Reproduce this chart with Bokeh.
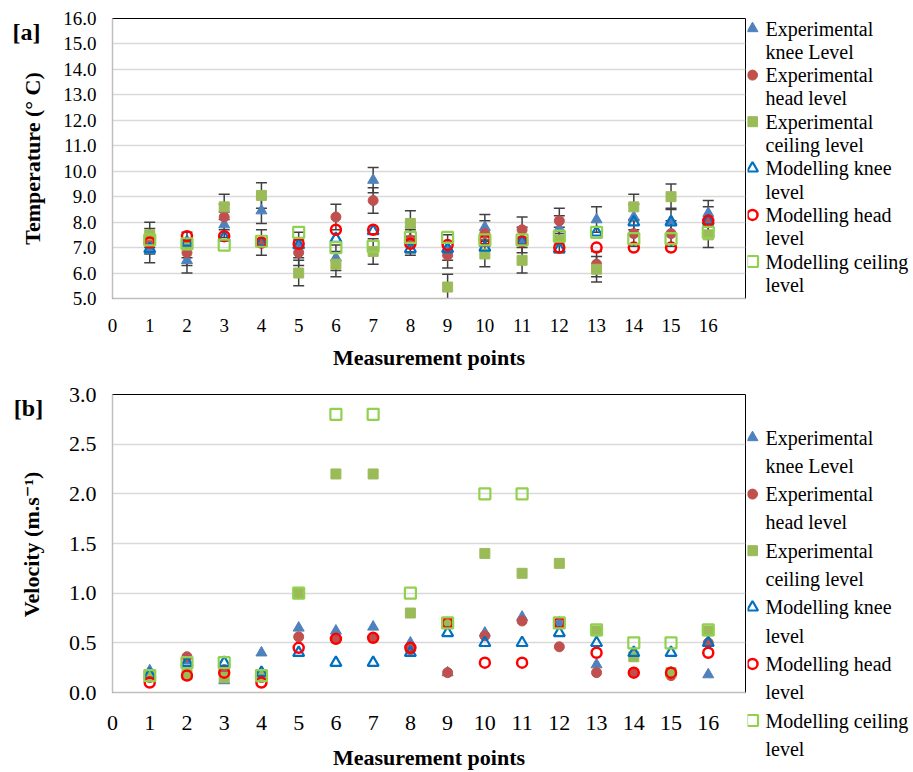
import math
from bokeh.plotting import figure
from bokeh.layouts import column, row
from bokeh.models import (Range1d, FixedTicker, Whisker, TeeHead, ColumnDataSource,
                          NumeralTickFormatter)
from bokeh.core.properties import value
from bokeh.embed import file_html
from bokeh.resources import INLINE
import numpy as np

# ---------------- data ----------------
points = list(range(1, 17))
x_ticks = list(range(0, 17))
temp_ticks = [5.0, 6.0, 7.0, 8.0, 9.0, 10.0, 11.0, 12.0, 13.0, 14.0, 15.0, 16.0]
vel_ticks = [0.0, 0.5, 1.0, 1.5, 2.0, 2.5, 3.0]

# Temperature (°C)
exp_knee_T = [6.9, 6.5, 7.9, 8.45, 7.1, 6.6, 9.65, 7.2, 7.0, 7.8, 7.3, 7.75, 8.1, 8.2, 8.05, 8.35]
exp_head_T = [7.25, 6.8, 8.2, 7.2, 6.8, 8.2, 8.85, 7.3, 6.7, 7.55, 7.7, 8.05, 6.35, 7.55, 7.55, 8.1]
exp_ceil_T = [7.5, 7.1, 8.6, 9.05, 6.0, 6.35, 6.85, 7.95, 5.45, 6.75, 6.5, 7.3, 6.15, 8.6, 9.0, 7.5]
mod_knee_T = [6.95, 7.2, 7.4, 7.2, 7.1, 7.35, 7.65, 6.95, 6.95, 7.0, 7.25, 6.95, 7.6, 8.0, 8.0, 8.05]
mod_head_T = [7.2, 7.45, 7.45, 7.2, 7.15, 7.7, 7.7, 7.15, 7.1, 7.3, 7.25, 7.0, 7.0, 7.0, 7.0, 8.05]
mod_ceil_T = [7.3, 7.15, 7.1, 7.25, 7.6, 7.0, 7.05, 7.4, 7.4, 7.3, 7.3, 7.45, 7.6, 7.35, 7.35, 7.6]
temp_err = 0.5

# Velocity (m/s)
exp_knee_V = [0.22, 0.32, 0.12, 0.4, 0.65, 0.62, 0.66, 0.5, 0.2, 0.6, 0.76, 0.7, 0.28, 0.4, 0.2, 0.18]
exp_head_V = [0.15, 0.36, 0.23, 0.15, 0.56, 0.54, 0.55, 0.43, 0.2, 0.57, 0.72, 0.46, 0.2, 0.2, 0.17, 0.5]
exp_ceil_V = [0.17, 0.18, 0.15, 0.17, 1.0, 2.2, 2.2, 0.8, 0.7, 1.4, 1.2, 1.3, 0.62, 0.36, 0.2, 0.62]
mod_knee_V = [0.18, 0.3, 0.3, 0.2, 0.4, 0.3, 0.3, 0.4, 0.6, 0.5, 0.5, 0.6, 0.5, 0.4, 0.4, 0.5]
mod_head_V = [0.1, 0.17, 0.2, 0.1, 0.45, 0.54, 0.55, 0.45, 0.7, 0.3, 0.3, 0.7, 0.4, 0.2, 0.2, 0.4]
mod_ceil_V = [0.17, 0.3, 0.3, 0.17, 1.0, 2.8, 2.8, 1.0, 0.7, 2.0, 2.0, 0.7, 0.63, 0.5, 0.5, 0.63]

legend_line1 = ["Experimental", "Experimental", "Experimental",
                "Modelling knee", "Modelling head", "Modelling ceiling"]
legend_line2 = ["knee  Level", "head level", "ceiling level", "level", "level", "level"]
panel_tags = ["[a]", "[b]"]
y_titles = ["Temperature (° C)", "Velocity (m.s⁻¹)"]

# ---------------- styles ----------------
STYLES = [
    dict(marker="triangle", size=11, fill_color="#4F81BD", line_color="#4F81BD", line_width=1),
    dict(marker="circle", size=10, fill_color="#C0504D", line_color="#C0504D", line_width=1),
    dict(marker="square", size=10, fill_color="#9BBB59", line_color="#9BBB59", line_width=1),
    dict(marker="triangle", size=11, fill_color=None, line_color="#0070C0", line_width=2.2),
    dict(marker="circle", size=10, fill_color=None, line_color="#FF0000", line_width=2.5),
    dict(marker="square", size=11, fill_color=None, line_color="#92D050", line_width=2.2),
]
SERIF = "'Liberation Serif', 'Times New Roman', Times, 'DejaVu Serif', serif"
PAGE_H = 772
LEFT_W = 52          # strip holding [a]/[b] and the rotated y titles
FRAME_L = 112        # page x of the plot-area left edge
FRAME_W = 633
MAIN_W = FRAME_L - LEFT_W + FRAME_W + 2
RIGHT_W = 913 - LEFT_W - MAIN_W
XMAX = 17.0


def main_fig(series, ymin, ymax, yticks, height, top, frame_h, tick_fs,
             x_standoff, title_standoff, err=None):
    p = figure(width=MAIN_W, height=height, x_range=Range1d(0, XMAX),
               y_range=Range1d(ymin, ymax), output_backend="svg", toolbar_location=None,
               min_border_left=FRAME_L - LEFT_W, min_border_right=2,
               min_border_top=top, min_border_bottom=height - top - frame_h)
    p.outline_line_color = "black"
    p.outline_line_width = 1
    p.xgrid.visible = False
    p.ygrid.grid_line_color = "#D9D9D9"
    p.ygrid.grid_line_width = 1.5
    p.xaxis.ticker = FixedTicker(ticks=x_ticks)
    p.yaxis.ticker = FixedTicker(ticks=yticks)
    p.yaxis.formatter = NumeralTickFormatter(format="0.0")
    for ax in (p.xaxis, p.yaxis):
        ax.axis_line_color = "#BFBFBF"
        ax.axis_line_width = 1.5
        ax.major_tick_line_color = None
        ax.minor_tick_line_color = None
        ax.major_tick_out = 0
        ax.major_tick_in = 0
        ax.major_label_text_font = SERIF
        ax.major_label_text_font_size = tick_fs
        ax.major_label_text_color = "black"
        ax.axis_label_text_font = SERIF
        ax.axis_label_text_font_style = "bold"
        ax.axis_label_text_font_size = "22px"
        ax.axis_label_text_color = "black"
    p.xaxis.axis_label = "Measurement points"
    p.xaxis.major_label_standoff = x_standoff
    p.yaxis.major_label_standoff = 16
    p.xaxis.axis_label_standoff = title_standoff

    if err is not None:
        for ys in series[:3]:
            ya = np.array(ys)
            src = ColumnDataSource(dict(x=points, upper=ya + err, lower=ya - err))
            w = Whisker(source=src, base="x", upper="upper", lower="lower",
                        line_color="#404040", line_width=1.5,
                        upper_head=TeeHead(size=11, line_color="#404040", line_width=1.5),
                        lower_head=TeeHead(size=11, line_color="#404040", line_width=1.5))
            p.add_layout(w)

    for ys, st in zip(series, STYLES):
        p.scatter(x=points, y=ys, **st)
    return p


def strip(width):
    s = figure(width=width, height=PAGE_H, x_range=Range1d(0, width),
               y_range=Range1d(PAGE_H, 0), output_backend="svg", toolbar_location=None,
               x_axis_type=None, y_axis_type=None, min_border=0, min_border_left=0,
               min_border_right=0, min_border_top=0, min_border_bottom=0)
    s.outline_line_color = None
    s.grid.visible = False
    return s


p1 = main_fig([exp_knee_T, exp_head_T, exp_ceil_T, mod_knee_T, mod_head_T, mod_ceil_T],
              5.0, 16.0, temp_ticks, 376, 18, 280, "19px", 20, 10, err=temp_err)
p2 = main_fig([exp_knee_V, exp_head_V, exp_ceil_V, mod_knee_V, mod_head_V, mod_ceil_V],
              0.0, 3.0, vel_ticks, 396, 18, 301, "22px", 23, 12)

# ---- left strip: panel tags and y-axis titles (page-pixel layout) ----
left = strip(LEFT_W)
left.text(x=[26, 28], y=[31, 407], text=panel_tags, text_font=value(SERIF),
          text_font_style="bold", text_font_size="24px", text_align="center",
          text_baseline="middle", text_color="black")
left.text(x=[32, 31], y=[158, 544], text=y_titles, text_font=value(SERIF),
          text_font_style="bold", text_font_size="22px", text_align="center",
          text_baseline="middle", text_color="black", angle=math.pi / 2)

# ---- right strip: legends ----
right = strip(RIGHT_W)
x0 = FRAME_L - LEFT_W + MAIN_W - (FRAME_L - LEFT_W) - FRAME_W  # = 2, strip starts at frame right + 2
mk_x = 752 - (LEFT_W + MAIN_W)
tx_x = 765 - (LEFT_W + MAIN_W)
for first, line_h in ((28, 23.3), (437, 28.3)):
    y1s = [first + 2 * i * line_h for i in range(6)]
    y2s = [y + line_h for y in y1s]
    for y, st in zip(y1s, STYLES):
        right.scatter(x=[mk_x], y=[y], **st)
    right.text(x=[tx_x] * 6, y=y1s, text=legend_line1, text_font=value(SERIF),
               text_font_size="20px", text_align="left", text_baseline="middle",
               text_color="black")
    right.text(x=[tx_x] * 6, y=y2s, text=legend_line2, text_font=value(SERIF),
               text_font_size="20px", text_align="left", text_baseline="middle",
               text_color="black")

layout = row(left, column(p1, p2), right)
open("out.html", "w").write(file_html(layout, INLINE))
